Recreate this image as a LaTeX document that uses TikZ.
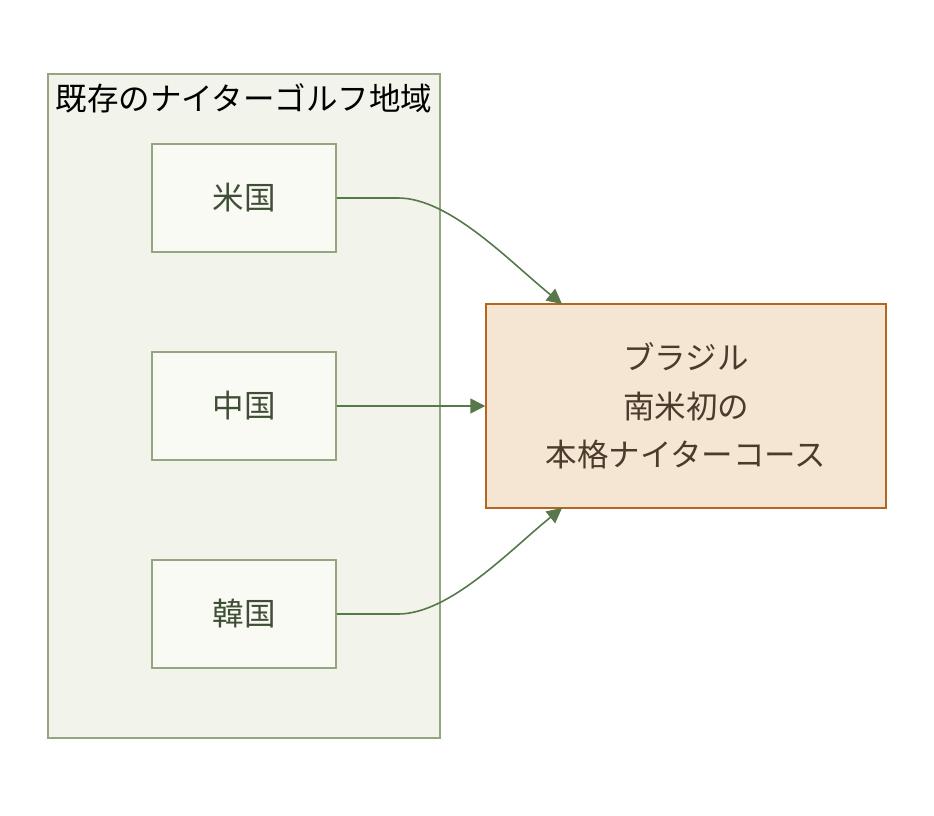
\documentclass[tikz,border=0pt]{standalone}
\usepackage{fontspec}
\newfontfamily\cjk{Noto Sans CJK JP}
\usetikzlibrary{arrows.meta}
\definecolor{clfill}{HTML}{F2F3EA}
\definecolor{clline}{HTML}{93A67F}
\definecolor{boxfill}{HTML}{F9FAF4}
\definecolor{boxtext}{HTML}{3F4F35}
\definecolor{tgfill}{HTML}{F5E6D3}
\definecolor{tgline}{HTML}{B5651D}
\definecolor{tgtext}{HTML}{4A3B2A}
\definecolor{arr}{HTML}{56784A}
\tikzset{
  region/.style={draw=clline, fill=boxfill, line width=1.5pt, minimum width=184pt, minimum height=108pt, text=boxtext, font=\cjk\fontsize{31.5}{36}\selectfont},
  goal/.style={draw=tgline, fill=tgfill, line width=1.5pt, minimum width=400pt, minimum height=204pt, text=tgtext, align=center, font=\cjk\fontsize{31.5}{48.5}\selectfont},
  link/.style={draw=arr, line width=1.6pt, -{Triangle[length=15pt,width=15pt]}}
}
\begin{document}
\begin{tikzpicture}[x=1pt,y=-1pt]
		\useasboundingbox (0,0) rectangle (934,816);
		\draw [clline, fill=clfill, line width=1.5pt] (48,74) rectangle (440,738);
		\node (title) at (244,98) {\cjk\fontsize{31.5}{36}\selectfont 既存のナイターゴルフ地域};
		
		\node [region] (us) at (244,198) {米国};
		\node [region] (cn) at (244,406) {中国};
		\node [region] (kr) at (244,614) {韓国};
		
		\node [goal] (br) at (686,406) {ブラジル\\南米初の\\本格ナイターコース};
		\coordinate (brtop) at (562,304); \coordinate (brbot) at (562,508);
		
		\draw [link] (us.east) -- (398,198) .. controls (450,198) and (510,262) .. (brtop);
		\draw [link] (cn.east) -- (br.west);
		\draw [link] (kr.east) -- (398,614) .. controls (450,614) and (510,550) .. (brbot);
\end{tikzpicture}
\end{document}
